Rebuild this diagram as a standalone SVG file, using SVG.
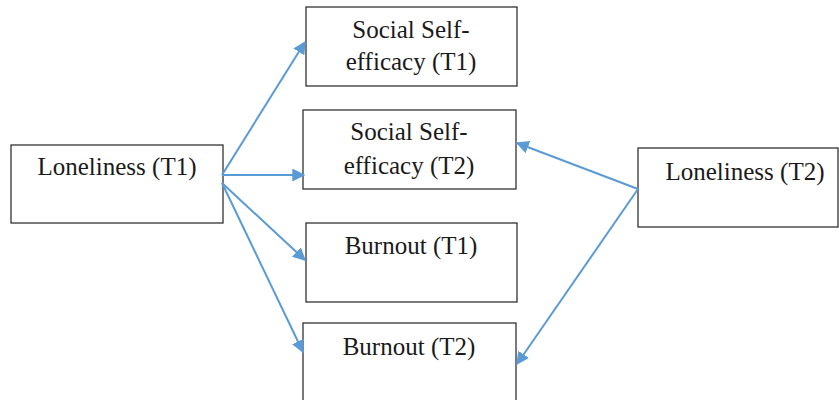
<svg xmlns="http://www.w3.org/2000/svg" width="839" height="400" viewBox="0 0 839 400">
<defs>
<style>
.box{fill:#fff;stroke:#333;stroke-width:1.3}
.lbl{font-family:"Liberation Serif","Times New Roman",serif;font-size:25px;fill:#1a1a1a;text-anchor:middle}
.arr{stroke:#5B9BD5;stroke-width:2;fill:none;marker-end:url(#ah)}
</style>
<marker id="ah" viewBox="0 0 10 10" refX="9" refY="5" markerWidth="6.5" markerHeight="6.5" markerUnits="strokeWidth" orient="auto">
<path d="M0,0 L10,5 L0,10 z" fill="#5B9BD5"/>
</marker>
</defs>
<rect width="839" height="400" fill="#fff"/>
<g id="lon1"><rect class="box" x="11" y="145" width="212" height="78"/><text class="lbl" x="117" y="175">Loneliness (T1)</text></g>
<g id="sse1"><rect class="box" x="306" y="7" width="211" height="79"/><text class="lbl" x="411" y="38">Social Self-</text><text class="lbl" x="411" y="70">efficacy (T1)</text></g>
<g id="sse2"><rect class="box" x="303" y="110" width="213" height="79"/><text class="lbl" x="409" y="140">Social Self-</text><text class="lbl" x="409" y="174">efficacy (T2)</text></g>
<g id="bur1"><rect class="box" x="306" y="223" width="211" height="79"/><text class="lbl" x="411" y="254">Burnout (T1)</text></g>
<g id="bur2"><rect class="box" x="303" y="323" width="213" height="90"/><text class="lbl" x="409" y="355">Burnout (T2)</text></g>
<g id="lon2"><rect class="box" x="638" y="148" width="200" height="79"/><text class="lbl" x="745" y="180">Loneliness (T2)</text></g>
<g id="connectors">
<line class="arr" x1="222" y1="175" x2="305" y2="42"/>
<line class="arr" x1="222" y1="175" x2="304" y2="175"/>
<line class="arr" x1="222" y1="183" x2="305" y2="260"/>
<line class="arr" x1="222" y1="183" x2="303" y2="352"/>
<line class="arr" x1="638" y1="189" x2="517" y2="143"/>
<line class="arr" x1="638" y1="189" x2="517" y2="364"/>
</g>
</svg>
